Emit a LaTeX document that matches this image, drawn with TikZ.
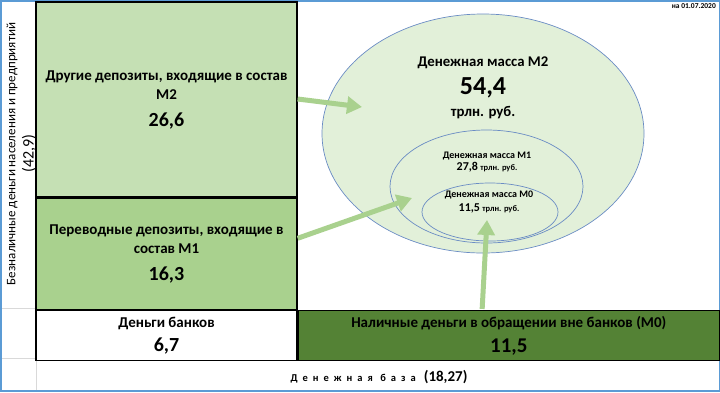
\documentclass[tikz,border=0pt]{standalone}
\usepackage{fontspec}
\setmainfont{Carlito}
\usetikzlibrary{positioning, shapes.geometric, arrows.meta, calc}
\definecolor{frameblue}{HTML}{5B9BD5}
\definecolor{gridgray}{HTML}{D9D9D9}
\definecolor{m2green}{HTML}{C5E0B4}
\definecolor{m1green}{HTML}{A9D18E}
\definecolor{m0green}{HTML}{548235}
\definecolor{ovalfill}{HTML}{E2F0D9}
\definecolor{ovalline}{HTML}{6A8CC4}
\definecolor{arrowgreen}{HTML}{A9D18E}

\begin{document}
\begin{tikzpicture}[x=1pt, y=-1pt,
    box/.style={draw=black, line width=1.3pt, rectangle, inner sep=0pt, align=center},
    oval/.style={ellipse, draw=ovalline, line width=0.7pt, fill=ovalfill, inner sep=0pt},
    ovaltext/.style={align=center, inner sep=0pt},
    bigarrow/.style={draw=arrowgreen, line width=5pt, -{Triangle[length=15pt,width=17pt]}}]
  \useasboundingbox (0,0) rectangle (720,392);
  % sheet grid and frame
  \draw[gridgray, line width=0.7pt] (0,308) -- (36,308) (0,358) -- (720,358) (36,358) -- (36,392);
  \draw[frameblue, line width=1.5pt] (0.75,0.75) rectangle (719.25,391);

  % left column
  \node[box, fill=m2green, minimum width=261pt, minimum height=195pt,
        font=\bfseries\fontsize{15}{19.5}\selectfont] (other) at (166.5,99.5)
    {Другие депозиты, входящие в состав\\
     М2\\[7pt]
     {\fontsize{20}{22}\selectfont 26,6}};
  \node[box, fill=m1green, minimum width=261pt, minimum height=111pt, below=0pt of other,
        font=\bfseries\fontsize{15}{19.5}\selectfont] (transfer)
    {Переводные депозиты, входящие в\\
     состав М1\\[7pt]
     {\fontsize{20}{22}\selectfont 16,3}};
  \node[box, fill=white, minimum width=261pt, minimum height=50pt, below=0pt of transfer,
        font=\bfseries\fontsize{15}{24.5}\selectfont] (banks)
    {Деньги банков\\
     {\fontsize{20}{22}\selectfont 6,7}};
  \node[box, fill=m0green, minimum width=421pt, minimum height=50pt, right=0pt of banks,
        font=\bfseries\fontsize{15}{25}\selectfont] (cash)
    {Наличные деньги в обращении вне банков (М0)\\
     {\fontsize{21}{22}\selectfont 11,5}};

  \node[rotate=90, font=\fontsize{13}{14}\selectfont] (cashless) at (12,154)
    {Безналичные деньги населения и предприятий};
  \node[rotate=90, font=\fontsize{16}{16}\selectfont] (cashlesssum) at (29,153.5) {(42,9)};

  % money supply ovals
  \node[oval, minimum width=322pt, minimum height=239pt] (m2) at (483,133.5) {};
  \node[oval, minimum width=193pt, minimum height=113pt] (m1) at (486.5,186.5) {};
  \node[oval, minimum width=136pt, minimum height=58pt] (m0) at (490,212) {};

  \node[ovaltext, font=\bfseries\fontsize{14.8}{27.5}\selectfont] (m2label) at (483,88)
    {Денежная масса М2\\
     {\fontsize{26}{24}\selectfont 54,4}\\[-5pt]
     трлн. руб.};
  \node[ovaltext, font=\bfseries\fontsize{10}{12}\selectfont] (m1label) at (487,162)
    {Денежная масса М1\\
     {\fontsize{12}{12}\selectfont 27,8} {\fontsize{8.5}{10}\selectfont трлн. руб.}};
  \node[ovaltext, font=\bfseries\fontsize{10}{13.5}\selectfont] (m0label) at (489,202)
    {Денежная масса М0\\
     {\fontsize{12}{12}\selectfont 11,5} {\fontsize{8.5}{10}\selectfont трлн. руб.}};

  \node[font=\bfseries\fontsize{7.5}{8}\selectfont, anchor=north east, inner sep=0pt] (date) at (716,3) {на 01.07.2020};

  \node[inner sep=0pt] (base) at (379,377.5)
    {{\addfontfeature{LetterSpace=48}\bfseries\fontsize{10.5}{12}\selectfont Денежная база}\hspace{8pt}{\bfseries\fontsize{15}{16}\selectfont (18,27)}};

  % arrows into the ovals
  \coordinate (m2tip) at (362,107);
  \coordinate (m1tip) at (412,198);
  \coordinate (m0tip) at (487,220);
  \draw[bigarrow] ($(other.east)+(0,-0.5)$) -- (m2tip);
  \draw[bigarrow] ($(transfer.east)+(0,-15.5)$) -- (m1tip);
  \draw[bigarrow] ($(cash.north west)+(184.5,-1)$) -- (m0tip);
\end{tikzpicture}
\end{document}
